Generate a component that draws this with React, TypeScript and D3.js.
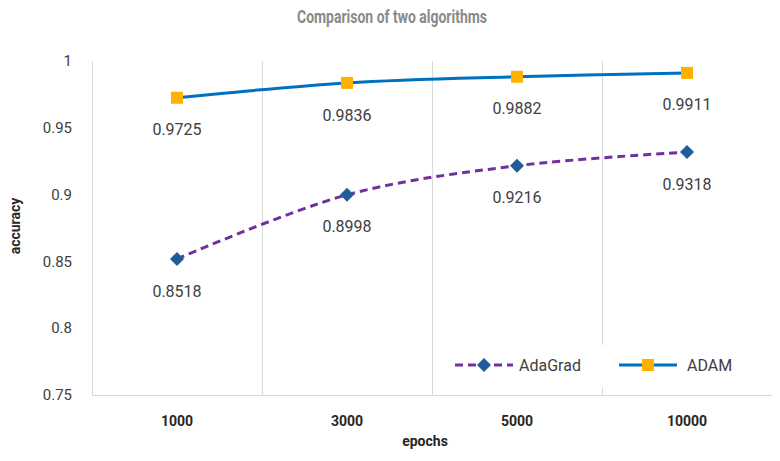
import { useRef, useEffect } from 'react';
import * as d3 from 'd3';

const epochs = ['1000', '3000', '5000', '10000'];
const adaGrad = [0.8518, 0.8998, 0.9216, 0.9318];
const adam = [0.9725, 0.9836, 0.9882, 0.9911];
const yTicks = [0.75, 0.8, 0.85, 0.9, 0.95, 1];

const width = 780;
const height = 461;
const margin = { top: 61, right: 8, bottom: 66, left: 92 };

const App = () => {
  const svgRef = useRef<SVGSVGElement>(null);

  useEffect(() => {
    if (!svgRef.current) return;
    const svg = d3.select(svgRef.current);
    svg.selectAll('*').remove();

    const innerW = width - margin.left - margin.right;
    const innerH = height - margin.top - margin.bottom;

    const x = d3.scaleBand<string>().domain(epochs).range([0, innerW]);
    const y = d3.scaleLinear().domain([0.75, 1]).range([innerH, 0]);
    const cx = (d: string) => (x(d) ?? 0) + x.bandwidth() / 2;

    const font = 'Roboto, "DejaVu Sans", sans-serif';

    // Title (condensed look)
    svg
      .append('text')
      .attr('x', 392)
      .attr('y', 23)
      .attr('text-anchor', 'middle')
      .attr('font-family', font)
      .attr('font-size', '19px')
      .attr('font-weight', 'bold')
      .attr('textLength', 190)
      .attr('lengthAdjust', 'spacingAndGlyphs')
      .attr('fill', '#898989')
      .text('Comparison of two algorithms');

    const g = svg
      .append('g')
      .attr('transform', `translate(${margin.left},${margin.top})`);

    // Vertical gridlines at category boundaries
    const bounds = epochs.map((d) => x(d) ?? 0).concat([innerW]);
    bounds.forEach((bx) => {
      g.append('line')
        .attr('x1', bx + 0.5)
        .attr('x2', bx + 0.5)
        .attr('y1', 0)
        .attr('y2', innerH)
        .attr('stroke', '#d9d9d9')
        .attr('stroke-width', 1);
    });
    // Bottom axis line
    g.append('line')
      .attr('x1', 0)
      .attr('x2', innerW)
      .attr('y1', innerH + 0.5)
      .attr('y2', innerH + 0.5)
      .attr('stroke', '#d9d9d9');

    // Y tick labels
    yTicks.forEach((t) => {
      g.append('text')
        .attr('x', -20)
        .attr('y', y(t))
        .attr('dy', '0.35em')
        .attr('text-anchor', 'end')
        .attr('font-family', font)
        .attr('font-size', '15px')
        .attr('fill', '#404040')
        .text(String(t));
    });

    // X tick labels
    epochs.forEach((d) => {
      g.append('text')
        .attr('x', cx(d))
        .attr('y', innerH + 26)
        .attr('dy', '0.35em')
        .attr('text-anchor', 'middle')
        .attr('font-family', font)
        .attr('font-size', '14px')
        .attr('font-weight', 'bold')
        .attr('fill', '#262626')
        .text(d);
    });

    // Axis titles
    svg
      .append('text')
      .attr('x', margin.left + innerW / 2 - 7)
      .attr('y', 446)
      .attr('text-anchor', 'middle')
      .attr('font-family', font)
      .attr('font-size', '14px')
      .attr('font-weight', 'bold')
      .attr('fill', '#262626')
      .text('epochs');

    svg
      .append('text')
      .attr('transform', `translate(20,${margin.top + innerH / 2 - 2}) rotate(-90)`)
      .attr('text-anchor', 'middle')
      .attr('font-family', font)
      .attr('font-size', '14px')
      .attr('font-weight', 'bold')
      .attr('fill', '#262626')
      .text('accuracy');

    const line = d3
      .line<number>()
      .x((_, i) => cx(epochs[i]))
      .y((v) => y(v))
      .curve(d3.curveCatmullRom.alpha(0.5));

    const series = [
      { name: 'AdaGrad', values: adaGrad, color: '#7030a0', marker: '#1f5c99', dash: '8,5', shape: 'diamond' },
      { name: 'ADAM', values: adam, color: '#0070c0', marker: '#ffb000', dash: null, shape: 'square' },
    ];

    const drawMarker = (sel: d3.Selection<SVGGElement, unknown, null, undefined>, px: number, py: number, s: typeof series[0]) => {
      if (s.shape === 'square') {
        sel.append('rect')
          .attr('x', px - 6)
          .attr('y', py - 6)
          .attr('width', 12)
          .attr('height', 12)
          .attr('fill', s.marker);
      } else {
        sel.append('path')
          .attr('d', `M${px},${py - 7}L${px + 7},${py}L${px},${py + 7}L${px - 7},${py}Z`)
          .attr('fill', s.marker);
      }
    };

    series.forEach((s) => {
      g.append('path')
        .datum(s.values)
        .attr('d', line)
        .attr('fill', 'none')
        .attr('stroke', s.color)
        .attr('stroke-width', 3)
        .attr('stroke-dasharray', s.dash);
    });

    series.forEach((s) => {
      s.values.forEach((v, i) => {
        const px = cx(epochs[i]);
        const py = y(v);
        drawMarker(g, px, py, s);
        g.append('text')
          .attr('x', px)
          .attr('y', py + 32)
          .attr('dy', '0.35em')
          .attr('text-anchor', 'middle')
          .attr('font-family', font)
          .attr('font-size', '16px')
          .attr('fill', '#404040')
          .text(v.toFixed(4));
      });
    });

    // Legend
    const lg = svg.append('g');
    lg.append('rect')
      .attr('x', 440)
      .attr('y', 345)
      .attr('width', 330)
      .attr('height', 42)
      .attr('fill', '#fff');
    const legendItems = [
      { s: series[0], x0: 455, tx: 519 },
      { s: series[1], x0: 619, tx: 687 },
    ];
    const ly = 365;
    legendItems.forEach(({ s, x0, tx }) => {
      lg.append('line')
        .attr('x1', x0)
        .attr('x2', x0 + 58)
        .attr('y1', ly)
        .attr('y2', ly)
        .attr('stroke', s.color)
        .attr('stroke-width', 3)
        .attr('stroke-dasharray', s.dash);
      drawMarker(lg, x0 + 29, ly, s);
      lg.append('text')
        .attr('x', tx)
        .attr('y', ly)
        .attr('dy', '0.35em')
        .attr('font-family', font)
        .attr('font-size', '16px')
        .attr('fill', '#404040')
        .text(s.name);
    });
  }, []);

  return <svg ref={svgRef} width={width} height={height} style={{ display: 'block', margin: -8, background: '#fff' }} />;
};

export default App;
